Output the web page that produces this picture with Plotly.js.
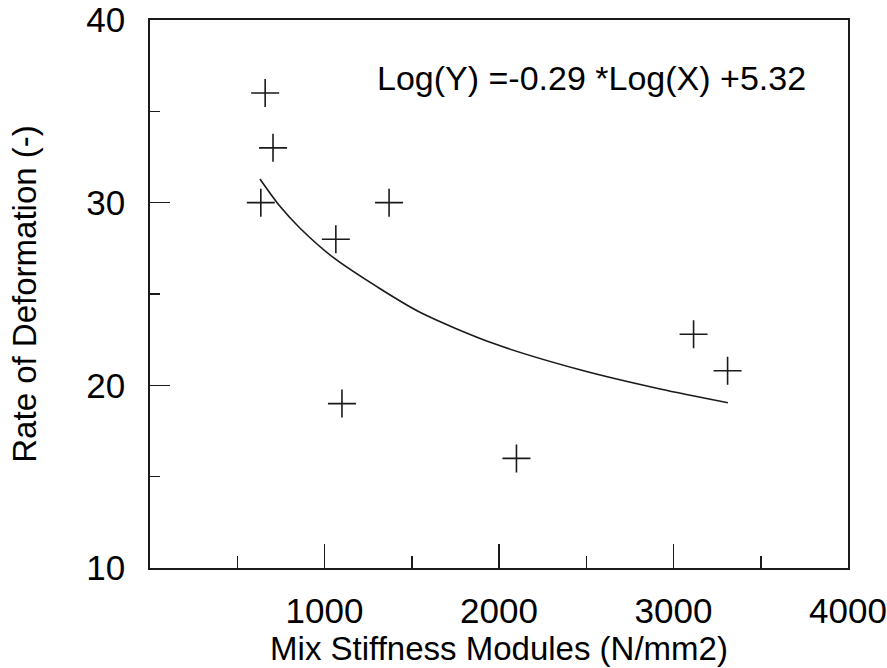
<!DOCTYPE html>
<html>
<head>
<meta charset="utf-8">
<script src="https://cdn.plot.ly/plotly-3.0.1.min.js"></script>
<style>html,body{margin:0;padding:0;background:#fff;}#chart{width:887px;height:668px;}</style>
</head>
<body>
<div id="chart"></div>
<script>
// Measured points
var stiffness = [660, 705, 635, 1370, 1065, 1100, 2100, 3115, 3310];
var deformation = [36, 33, 30, 30, 28, 19, 16, 22.8, 20.8];
// Fitted curve
var fitX = [630, 745, 860, 1050, 1300, 1547, 1966, 2464, 2923, 3312];
var fitY = [31.3, 29.8, 28.6, 27.0, 25.4, 24.0, 22.3, 20.85, 19.8, 19.05];
var xTicks = [1000, 2000, 3000, 4000];
var xTickText = ['1000', '2000', '3000', '4000'];
var yTicks = [10, 20, 30, 40];
var yTickText = ['10', '20', '30', '40'];
var equationText = 'Log(Y) =-0.29 *Log(X) +5.32';

var font = 'Liberation Sans, Arial, sans-serif';
var ink = '#1a1a1a';

var traces = [
  {
    x: fitX, y: fitY, mode: 'lines', type: 'scatter',
    line: {color: ink, width: 1.6, shape: 'spline', smoothing: 0.8},
    hoverinfo: 'skip', showlegend: false
  },
  {
    x: stiffness, y: deformation, mode: 'markers', type: 'scatter',
    marker: {symbol: 'cross-thin', size: 20, line: {color: ink, width: 1.6}},
    showlegend: false
  }
];

var layout = {
  width: 887, height: 668,
  margin: {l: 150, r: 39, t: 20, b: 100},
  paper_bgcolor: '#fff', plot_bgcolor: '#fff',
  font: {family: font, size: 33, color: '#000'},
  xaxis: {
    range: [0, 4000], showgrid: false, zeroline: false,
    showline: true, linecolor: ink, linewidth: 1.8, mirror: true,
    tickmode: 'array', tickvals: xTicks, ticktext: xTickText,
    ticks: 'inside', ticklen: 24, tickwidth: 1.5, tickcolor: ink,
    ticklabelstandoff: 11,
    minor: {dtick: 500, tick0: 0, ticks: 'inside', ticklen: 12, tickwidth: 1.5, tickcolor: ink, showgrid: false},
    tickfont: {family: font, size: 35, color: '#000'},
    title: {text: 'Mix Stiffness Modules (N/mm2)', font: {family: font, size: 33, color: '#000'}, standoff: 6}
  },
  yaxis: {
    range: [10, 40], showgrid: false, zeroline: false,
    showline: true, linecolor: ink, linewidth: 1.8, mirror: true,
    tickmode: 'array', tickvals: yTicks, ticktext: yTickText,
    ticks: 'inside', ticklen: 20, tickwidth: 1.5, tickcolor: ink,
    ticklabelstandoff: 16,
    minor: {dtick: 5, tick0: 10, ticks: 'inside', ticklen: 10, tickwidth: 1.5, tickcolor: ink, showgrid: false},
    tickfont: {family: font, size: 35, color: '#000'},
    title: {text: 'Rate of Deformation (-)', font: {family: font, size: 33, color: '#000'}, standoff: 40}
  },
  annotations: [{
    text: equationText, xref: 'paper', yref: 'paper',
    x: 0.632, y: 0.894, xanchor: 'center', yanchor: 'middle',
    showarrow: false, font: {family: font, size: 34, color: '#000'}
  }]
};

Plotly.newPlot('chart', traces, layout, {displayModeBar: false, staticPlot: true});
</script>
</body>
</html>
